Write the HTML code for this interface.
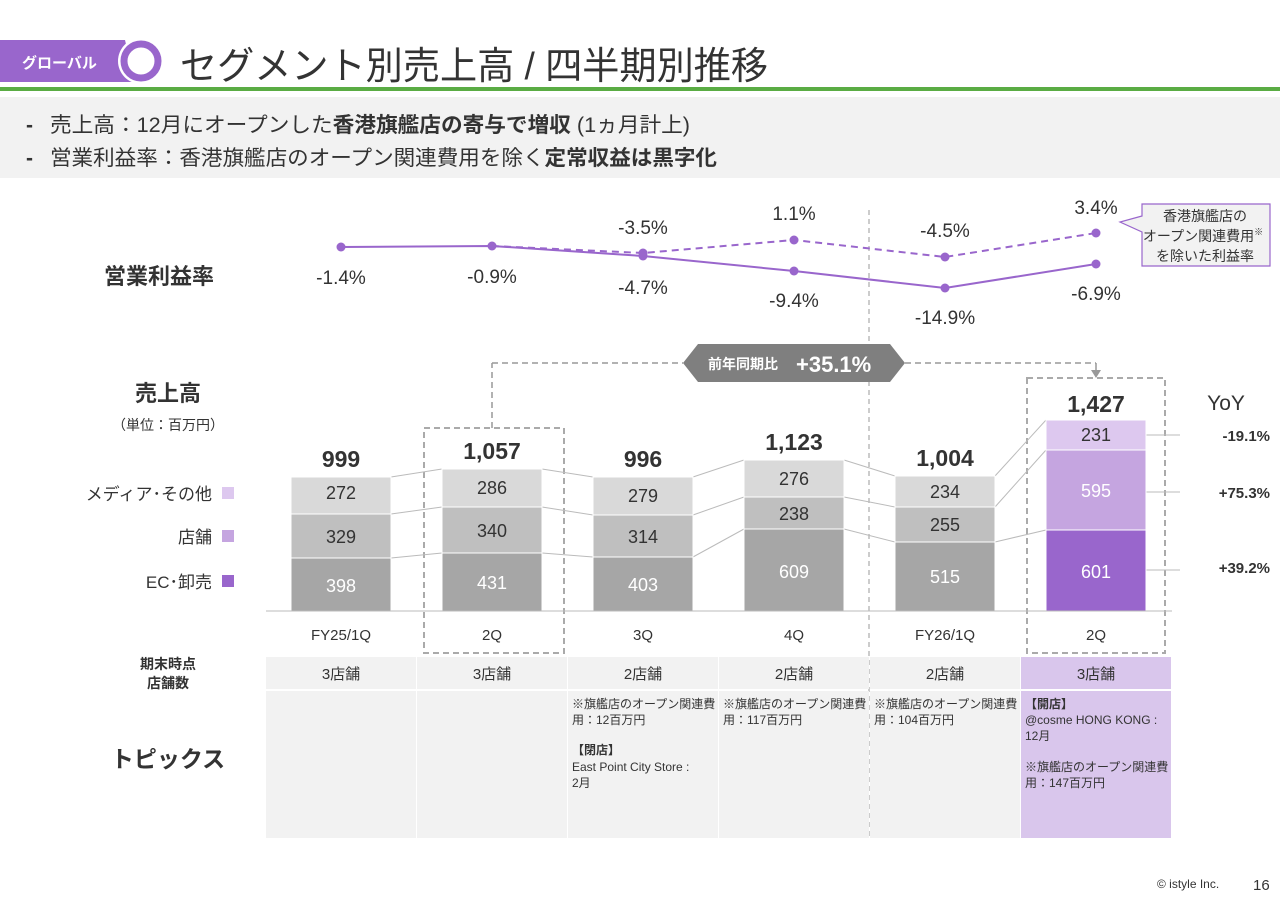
<!DOCTYPE html>
<html><head><meta charset="utf-8"><style>
body{margin:0;width:1280px;height:905px;background:#fff;overflow:hidden;font-family:"Liberation Sans","Noto Sans CJK JP",sans-serif;color:#333}
svg text{font-family:"Liberation Sans","Noto Sans CJK JP",sans-serif}
</style></head><body>
<svg width="1280" height="905" viewBox="0 0 1280 905" xmlns="http://www.w3.org/2000/svg">
<!-- header -->
<path d="M0 40 H125 L135 82 H0 Z" fill="#9966cc"/>
<text x="22" y="68" font-size="15" font-weight="bold" fill="#fff">グローバル</text>
<circle cx="141" cy="61" r="23" fill="#fff"/>
<circle cx="141" cy="61" r="17" fill="#fff" stroke="#9966cc" stroke-width="7"/>
<text x="180" y="79" font-size="38" fill="#333" textLength="588" lengthAdjust="spacingAndGlyphs">セグメント別売上高 / 四半期別推移</text>
<rect x="0" y="87" width="1280" height="4" fill="#5aac44"/>
<rect x="0" y="97" width="1280" height="81" fill="#f2f2f2"/>
<text x="26" y="132" font-size="21" font-weight="bold" fill="#333">-</text>
<text x="26" y="165" font-size="21" font-weight="bold" fill="#333">-</text>
<text x="50" y="132" font-size="21" fill="#333" textLength="640" lengthAdjust="spacingAndGlyphs">売上高：12月にオープンした<tspan font-weight="bold">香港旗艦店の寄与で増収</tspan> (1ヵ月計上)</text>
<text x="50" y="165" font-size="21" fill="#333" textLength="667" lengthAdjust="spacingAndGlyphs">営業利益率：香港旗艦店のオープン関連費用を除く<tspan font-weight="bold">定常収益は黒字化</tspan></text>

<!-- vertical divider -->
<line x1="869" y1="210" x2="869" y2="838" stroke="#bbb" stroke-width="1.5" stroke-dasharray="5,4"/>

<!-- line chart -->
<text x="104" y="284" font-size="22" font-weight="bold" fill="#333">営業利益率</text>
<polyline points="341,247 492,246 643,256 794,271 945,288 1096,264" fill="none" stroke="#9966cc" stroke-width="2"/>
<polyline points="492,246 643,253 794,240 945,257 1096,233" fill="none" stroke="#9966cc" stroke-width="2" stroke-dasharray="7,5"/>
<g fill="#9966cc">
<circle cx="341" cy="247" r="4.5"/><circle cx="492" cy="246" r="4.5"/><circle cx="643" cy="256" r="4.5"/><circle cx="794" cy="271" r="4.5"/><circle cx="945" cy="288" r="4.5"/><circle cx="1096" cy="264" r="4.5"/>
<circle cx="643" cy="253" r="4.5"/><circle cx="794" cy="240" r="4.5"/><circle cx="945" cy="257" r="4.5"/><circle cx="1096" cy="233" r="4.5"/>
</g>
<g font-size="19" fill="#333" text-anchor="middle">
<text x="341" y="284">-1.4%</text><text x="492" y="283">-0.9%</text>
<text x="643" y="234">-3.5%</text><text x="643" y="294">-4.7%</text>
<text x="794" y="220">1.1%</text><text x="794" y="307">-9.4%</text>
<text x="945" y="237">-4.5%</text><text x="945" y="324">-14.9%</text>
<text x="1096" y="214">3.4%</text><text x="1096" y="300">-6.9%</text>
</g>
<path d="M1142 204 H1270 V266 H1142 V232 L1120 222 L1142 216 Z" fill="#f2f2f2" stroke="#9966cc" stroke-width="1.2"/>
<g font-size="14" fill="#333" text-anchor="middle">
<text x="1205" y="221">香港旗艦店の</text><text x="1203" y="241">オープン関連費用<tspan font-size="9" dy="-6">※</tspan></text><text x="1205" y="261">を除いた利益率</text>
</g>

<!-- sales label & legend -->
<text x="168" y="401" font-size="22" font-weight="bold" fill="#333" text-anchor="middle">売上高</text>
<text x="168" y="430" font-size="14" fill="#333" text-anchor="middle">（単位：百万円）</text>
<g font-size="17" fill="#333" text-anchor="end">
<text x="212" y="500">メディア･その他</text><text x="212" y="543">店舗</text><text x="212" y="588">EC･卸売</text>
</g>
<rect x="222" y="487" width="12" height="12" fill="#ddc8ef"/>
<rect x="222" y="530" width="12" height="12" fill="#c5a5e0"/>
<rect x="222" y="575" width="12" height="12" fill="#9966cc"/>

<!-- YoY callout -->
<line x1="492" y1="428" x2="492" y2="363" stroke="#999" stroke-width="1.5" stroke-dasharray="6,4"/>
<line x1="492" y1="363" x2="683" y2="363" stroke="#999" stroke-width="1.5" stroke-dasharray="6,4"/>
<line x1="905" y1="363" x2="1096" y2="363" stroke="#999" stroke-width="1.5" stroke-dasharray="6,4"/>
<line x1="1096" y1="363" x2="1096" y2="372" stroke="#999" stroke-width="1.5"/>
<path d="M1091 370 L1101 370 L1096 378 Z" fill="#999"/>
<path d="M683 363 L698 344 H890 L905 363 L890 382 H698 Z" fill="#7f7f7f"/>
<text x="708" y="369" font-size="14" font-weight="bold" fill="#fff">前年同期比</text>
<text x="796" y="372" font-size="22" font-weight="bold" fill="#fff">+35.1%</text>

<!-- dashed boxes -->
<rect x="424" y="428" width="140" height="225" fill="none" stroke="#aaa" stroke-width="2" stroke-dasharray="6,4"/>
<rect x="1027" y="378" width="138" height="275" fill="none" stroke="#aaa" stroke-width="2" stroke-dasharray="6,4"/>

<!-- connectors -->
<g stroke="#bbb" stroke-width="1" fill="none">
<polyline points="391,477 442,469"/><polyline points="391,514 442,507"/><polyline points="391,558 442,553"/>
<polyline points="542,469 593,477"/><polyline points="542,507 593,515"/><polyline points="542,553 593,557"/>
<polyline points="693,477 744,460"/><polyline points="693,515 744,497"/><polyline points="693,557 744,529"/>
<polyline points="844,460 895,476"/><polyline points="844,497 895,507"/><polyline points="844,529 895,542"/>
<polyline points="995,476 1046,420"/><polyline points="995,507 1046,450"/><polyline points="995,542 1046,530"/>
<line x1="1146" y1="435" x2="1180" y2="435"/><line x1="1146" y1="492" x2="1180" y2="492"/><line x1="1146" y1="570" x2="1180" y2="570"/>
</g>

<!-- bars -->
<g stroke="#fff" stroke-width="1">
<rect x="291" y="477" width="100" height="37" fill="#d9d9d9"/><rect x="291" y="514" width="100" height="44" fill="#bfbfbf"/><rect x="291" y="558" width="100" height="53" fill="#a6a6a6"/>
<rect x="442" y="469" width="100" height="38" fill="#d9d9d9"/><rect x="442" y="507" width="100" height="46" fill="#bfbfbf"/><rect x="442" y="553" width="100" height="58" fill="#a6a6a6"/>
<rect x="593" y="477" width="100" height="38" fill="#d9d9d9"/><rect x="593" y="515" width="100" height="42" fill="#bfbfbf"/><rect x="593" y="557" width="100" height="54" fill="#a6a6a6"/>
<rect x="744" y="460" width="100" height="37" fill="#d9d9d9"/><rect x="744" y="497" width="100" height="32" fill="#bfbfbf"/><rect x="744" y="529" width="100" height="82" fill="#a6a6a6"/>
<rect x="895" y="476" width="100" height="31" fill="#d9d9d9"/><rect x="895" y="507" width="100" height="35" fill="#bfbfbf"/><rect x="895" y="542" width="100" height="69" fill="#a6a6a6"/>
<rect x="1046" y="420" width="100" height="30" fill="#ddc8ef"/><rect x="1046" y="450" width="100" height="80" fill="#c5a5e0"/><rect x="1046" y="530" width="100" height="81" fill="#9966cc"/>
</g>
<line x1="266" y1="611" x2="1172" y2="611" stroke="#bbb" stroke-width="1"/>
<g font-size="18" text-anchor="middle" fill="#333">
<text x="341" y="499">272</text><text x="341" y="543">329</text><text x="341" y="592" fill="#fff">398</text>
<text x="492" y="494">286</text><text x="492" y="537">340</text><text x="492" y="589" fill="#fff">431</text>
<text x="643" y="502">279</text><text x="643" y="543">314</text><text x="643" y="591" fill="#fff">403</text>
<text x="794" y="485">276</text><text x="794" y="520">238</text><text x="794" y="578" fill="#fff">609</text>
<text x="945" y="498">234</text><text x="945" y="531">255</text><text x="945" y="583" fill="#fff">515</text>
<text x="1096" y="441">231</text><text x="1096" y="497" fill="#fff">595</text><text x="1096" y="578" fill="#fff">601</text>
</g>
<g font-size="23" font-weight="bold" text-anchor="middle" fill="#333">
<text x="341" y="467">999</text><text x="492" y="459">1,057</text><text x="643" y="467">996</text><text x="794" y="450">1,123</text><text x="945" y="466">1,004</text><text x="1096" y="412">1,427</text>
</g>
<text x="1226" y="410" font-size="21" fill="#333" text-anchor="middle">YoY</text>
<g font-size="15" font-weight="bold" fill="#333" text-anchor="end">
<text x="1270" y="441">-19.1%</text><text x="1270" y="498">+75.3%</text><text x="1270" y="573">+39.2%</text>
</g>
<g font-size="15" fill="#333" text-anchor="middle">
<text x="341" y="640">FY25/1Q</text><text x="492" y="640">2Q</text><text x="643" y="640">3Q</text><text x="794" y="640">4Q</text><text x="945" y="640">FY26/1Q</text><text x="1096" y="640">2Q</text>
</g>

<!-- table -->
<text x="168" y="669" font-size="14" font-weight="bold" text-anchor="middle" fill="#333">期末時点</text>
<text x="168" y="688" font-size="14" font-weight="bold" text-anchor="middle" fill="#333">店舗数</text>
<text x="168" y="767" font-size="23" font-weight="bold" text-anchor="middle" fill="#333">トピックス</text>
<g fill="#f2f2f2">
<rect x="266" y="657" width="150" height="32"/><rect x="417" y="657" width="150" height="32"/><rect x="568" y="657" width="150" height="32"/><rect x="719" y="657" width="150" height="32"/><rect x="870" y="657" width="150" height="32"/>
<rect x="266" y="691" width="150" height="147"/><rect x="417" y="691" width="150" height="147"/><rect x="568" y="691" width="150" height="147"/><rect x="719" y="691" width="150" height="147"/><rect x="870" y="691" width="150" height="147"/>
</g>
<rect x="1021" y="657" width="150" height="32" fill="#d9c6ec"/>
<rect x="1021" y="691" width="150" height="147" fill="#d9c6ec"/>
<g font-size="15" text-anchor="middle" fill="#333">
<text x="341" y="679">3店舗</text><text x="492" y="679">3店舗</text><text x="643" y="679">2店舗</text><text x="794" y="679">2店舗</text><text x="945" y="679">2店舗</text><text x="1096" y="679">3店舗</text>
</g>
<g font-size="12" fill="#333">
<text x="572" y="708">※旗艦店のオープン関連費</text><text x="572" y="724">用：12百万円</text>
<text x="572" y="754" font-weight="bold">【閉店】</text><text x="572" y="771">East Point City Store :</text><text x="572" y="787">2月</text>
<text x="723" y="708">※旗艦店のオープン関連費</text><text x="723" y="724">用：117百万円</text>
<text x="874" y="708">※旗艦店のオープン関連費</text><text x="874" y="724">用：104百万円</text>
<text x="1025" y="708" font-weight="bold">【開店】</text><text x="1025" y="724">@cosme HONG KONG :</text><text x="1025" y="740">12月</text>
<text x="1025" y="771">※旗艦店のオープン関連費</text><text x="1025" y="787">用：147百万円</text>
</g>

<text x="1157" y="888" font-size="12" fill="#333">©  istyle Inc.</text>
<text x="1253" y="890" font-size="15" fill="#333">16</text>
</svg>
</body></html>
